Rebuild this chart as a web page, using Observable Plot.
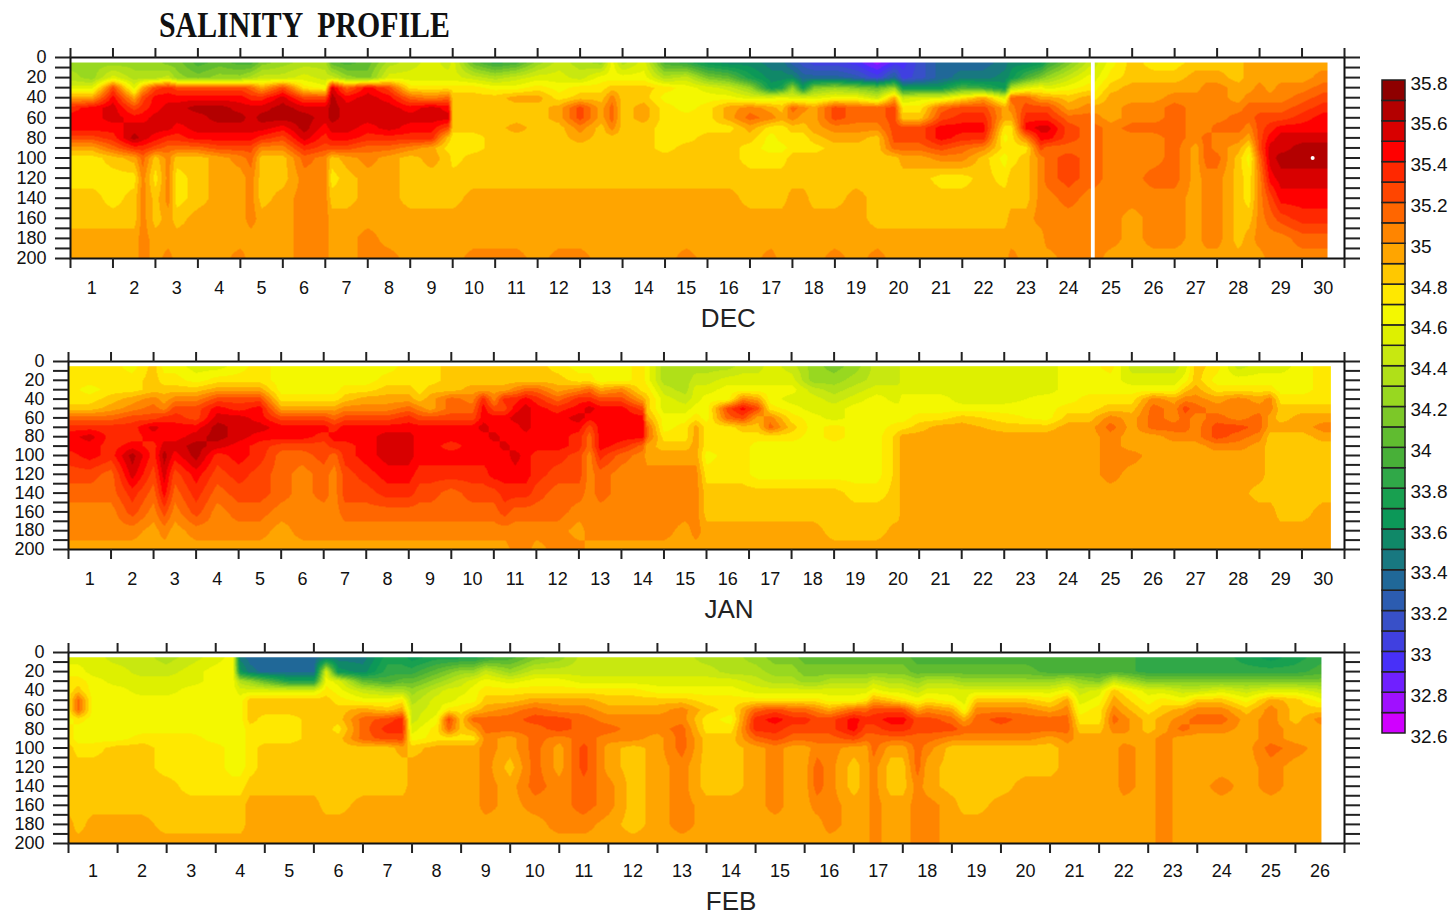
<!DOCTYPE html>
<html><head><meta charset="utf-8">
<script src="https://cdn.jsdelivr.net/npm/d3@7"></script>
<script src="https://cdn.jsdelivr.net/npm/@observablehq/plot@0.6"></script>
<style>
html,body{margin:0;padding:0;background:#fff;width:1452px;height:916px;overflow:hidden}
#page{position:relative;width:1452px;height:916px}
#title{position:absolute;left:159px;top:6px;font:bold 35px "Liberation Serif",serif;white-space:pre;color:#111;transform:scaleX(.853);transform-origin:left top}
.p{position:absolute;left:0}
#legend{position:absolute;left:1375px;top:70px}
svg{background:transparent;display:block}
</style></head><body><div id="page">
<div id="title">SALINITY  PROFILE</div>
<div class="p" id="p1" style="top:40px"></div>
<div class="p" id="p2" style="top:340px"></div>
<div class="p" id="p3" style="top:625px"></div>
<div id="legend"></div>
</div>
<script>
const depths=[5,20,30,40,50,60,70,80,90,100,120,140,160,180,200];
const depthTicks=[0,10,20,30,40,50,60,70,80,90,100,110,120,130,140,150,160,170,180,190,200];
const legendTicks=[32.6,32.8,33,33.2,33.4,33.6,33.8,34,34.2,34.4,34.6,34.8,35,35.2,35.4,35.6,35.8];
const thresholds=[32.7,32.8,32.9,33,33.1,33.2,33.3,33.4,33.5,33.6,33.7,33.8,33.9,34,34.1,34.2,34.3,34.4,34.5,34.6,34.7,34.8,34.9,35,35.1,35.2,35.3,35.4,35.5,35.6,35.7];
const bandColors=["#d000ff","#a010ff","#7020ff","#4830f8","#4040e0","#3850c8","#2c5cb0","#206898","#187880","#108868","#0c9858","#18a050","#30a848","#48b038","#60bc30","#7cc828","#98d820","#b0e018","#c8e810","#def000","#f4f800","#ffe800","#ffc800","#ffa500","#ff8500","#ff6600","#ff4500","#ff2800","#ff0000","#d80000","#b30000","#8e0000"];
// each row: day offset, then salinity band read at each depth (tenths of psu, lower edge of band)
const decRows=[
[0,342,343,345,349,353,354,354,352,349,347,347,348,348,349,349],
[0.5,342,342,345,349,354,354,354,352,349,347,347,348,348,349,349],
[1,342,345,352,354,355,355,354,353,351,348,347,347,348,349,349],
[1.5,342,343,345,349,352,354,355,356,353,349,347,348,348,349,349],
[1.7,342,343,349,352,353,354,355,355,353,351,350,350,350,350,350],
[2,342,343,352,354,354,355,355,354,352,348,347,348,348,349,349],
[2.3,341,344,353,354,355,355,355,353,351,350,350,350,349,349,350],
[2.5,341,342,352,354,355,355,354,353,351,348,347,347,348,349,349],
[3,339,341,352,354,356,355,355,354,351,348,348,348,349,349,349],
[3.5,340,342,352,354,356,356,355,354,352,349,349,349,349,349,349],
[4,339,342,352,354,355,356,355,354,352,350,349,349,349,349,350],
[4.25,339,343,351,353,355,355,355,354,352,351,350,350,350,349,349],
[4.5,341,344,349,353,355,356,355,353,350,348,348,348,349,349,349],
[5,342,344,352,355,356,356,354,352,350,348,348,349,349,349,349],
[5.5,343,345,347,352,355,356,356,355,353,351,350,350,350,350,350],
[6,343,344,346,352,355,355,354,353,352,350,350,350,350,350,350],
[6.15,340,344,355,356,356,356,355,354,352,348,347,348,349,349,349],
[6.5,339,342,351,354,355,355,355,354,352,349,348,348,349,349,349],
[7,340,341,354,355,355,355,354,353,351,350,349,349,349,350,350],
[7.5,343,345,352,354,355,355,355,353,351,349,349,349,349,349,350],
[8,344,345,347,351,354,355,354,353,350,348,348,348,349,349,349],
[8.5,345,345,347,350,355,355,354,353,349,349,348,348,349,349,349],
[8.9,344,345,347,351,354,355,352,348,347,348,348,348,349,349,349],
[9,345,345,347,348,348,348,348,347,347,347,348,348,349,349,349],
[9.5,340,344,347,348,348,348,348,347,347,348,348,349,349,349,350],
[10,338,343,346,348,348,348,348,348,348,348,348,349,349,349,350],
[10.5,339,344,346,349,348,348,349,348,348,348,348,349,349,349,350],
[11,342,345,347,349,348,348,348,348,348,348,348,349,349,349,349],
[11.5,344,345,346,347,349,349,348,348,348,348,348,349,349,349,350],
[12,343,344,347,348,352,352,350,349,348,348,348,349,349,349,350],
[12.5,342,346,347,348,349,349,348,348,348,348,348,349,349,349,349],
[12.75,346,346,348,350,351,351,350,348,348,348,348,349,349,349,349],
[13,343,346,348,348,348,348,348,348,348,348,348,349,349,349,349],
[13.5,345,346,348,348,349,349,348,348,348,348,348,349,349,349,349],
[14,339,343,347,346,347,347,347,347,347,348,348,349,349,349,349],
[14.5,338,344,346,346,346,347,347,347,348,348,348,349,349,349,350],
[15,336,341,345,346,347,347,347,348,348,348,348,349,349,349,349],
[15.5,335,340,344,346,349,349,347,348,348,348,348,349,349,349,349],
[16,335,337,342,345,350,351,349,348,347,347,348,348,349,349,349],
[16.5,334,335,336,345,349,350,347,346,346,347,348,348,349,349,350],
[16.75,334,335,337,346,348,349,347,347,346,347,348,348,349,349,349],
[17,332,335,342,345,351,350,348,347,347,348,348,349,349,349,349],
[17.25,331,333,336,345,350,349,348,347,347,348,348,349,349,349,349],
[17.5,330,333,341,345,349,349,349,348,347,348,348,348,349,349,349],
[18,330,333,342,346,352,352,350,349,348,348,348,348,349,349,350],
[18.5,329,332,341,346,351,351,350,349,348,348,348,349,349,349,349],
[19,327,330,340,344,351,351,350,348,348,348,348,348,348,349,350],
[19.4,329,333,342,349,352,352,352,352,351,348,348,348,348,349,349],
[19.6,329,330,336,344,347,348,352,352,351,349,348,348,348,349,349],
[20,331,331,336,345,347,348,352,352,351,349,348,348,348,349,349],
[20.5,333,333,336,345,351,352,354,354,352,350,347,348,348,349,349],
[21,333,334,339,347,352,353,354,353,351,350,347,348,348,349,349],
[21.5,333,334,338,349,352,353,354,353,350,348,348,348,348,349,349],
[22,334,335,336,345,349,349,347,346,347,346,347,348,348,349,349],
[22.15,335,336,343,351,350,349,347,347,347,347,348,348,349,349,350],
[22.5,335,339,345,351,352,353,354,350,347,348,348,348,349,349,349],
[22.85,336,341,346,349,352,353,355,354,352,350,350,350,350,349,349],
[23,338,342,345,349,352,353,355,354,351,351,351,350,350,350,349],
[23.5,341,344,346,348,349,351,352,352,351,352,352,351,350,350,350],
[24,344,346,347,349,350,351,351,351,351,351,351,350,350,350,350],
[24.1,344,345,346,347,349,350,351,351,351,351,351,350,350,350,350],
[24.5,346,347,348,349,349,349,350,350,350,350,350,350,350,350,349],
[25,348,348,349,349,350,350,351,350,350,350,350,350,349,349,349],
[25.5,347,348,349,349,350,350,351,350,350,350,351,350,350,350,349],
[26,347,348,349,350,351,351,351,351,351,351,351,350,350,350,349],
[26.5,348,349,349,350,350,350,350,350,349,349,349,349,349,349,349],
[26.75,348,349,350,350,350,350,350,351,351,351,350,350,350,350,349],
[27,348,349,350,350,350,350,351,350,350,351,350,350,350,350,349],
[27.5,348,348,349,349,350,351,351,350,349,348,348,348,348,348,349],
[27.75,349,349,349,350,351,351,350,349,347,346,347,347,348,349,349],
[28,349,349,350,350,351,352,352,352,352,351,350,350,350,350,349],
[28.25,349,349,349,350,351,352,353,354,355,355,354,352,351,350,350],
[28.5,349,349,350,350,351,352,354,355,355,356,355,354,352,350,350],
[29,349,349,350,351,352,353,354,355,356,356,355,354,353,351,350],
[29.5,349,350,351,352,353,354,354,355,356,356,355,354,353,351,350],
[30,349,350,351,352,353,354,354,355,356,356,355,354,353,351,350]];
const janRows=[
[0,347,347,347,347,348,351,353,354,354,353,352,351,350,350,349],
[0.5,347,347,346,347,348,351,353,355,354,354,352,351,350,350,349],
[1,347,347,347,348,349,351,353,353,353,353,351,351,350,350,349],
[1.5,346,347,347,349,350,352,353,353,354,356,355,353,352,350,349],
[2,348,348,348,350,351,352,355,354,353,353,352,351,350,349,349],
[2.25,346,347,348,349,350,353,354,354,355,356,355,354,352,350,349],
[2.5,346,347,348,350,352,353,354,354,355,354,352,351,350,349,349],
[3,345,346,348,350,352,352,354,355,356,356,354,353,352,350,349],
[3.5,345,347,349,352,354,355,356,356,355,353,352,351,350,350,349],
[4,346,347,349,352,353,355,355,355,354,354,353,352,351,350,349],
[4.5,347,347,349,352,354,354,355,354,353,353,352,352,351,350,349],
[5,346,346,346,347,349,352,354,354,352,351,351,351,350,349,349],
[5.5,346,346,346,347,349,352,354,354,352,351,350,350,350,350,349],
[6,346,346,346,347,349,352,354,353,352,352,351,351,350,350,349],
[6.25,346,346,346,347,349,351,353,354,353,351,350,350,350,350,349],
[6.5,346,346,347,348,350,352,354,354,353,353,352,352,351,350,349],
[7,346,346,347,349,350,352,354,354,354,354,353,352,351,350,349],
[7.5,346,347,348,349,350,352,354,355,355,355,354,353,351,350,349],
[8,347,347,348,349,351,353,354,355,355,355,354,353,351,350,349],
[8.25,347,347,347,348,350,352,354,354,354,354,353,352,351,350,349],
[8.5,347,347,348,349,349,352,354,354,354,354,353,352,351,350,349],
[9,348,348,348,351,351,352,354,354,353,354,353,351,351,350,349],
[9.5,348,348,349,350,351,352,354,354,354,354,353,352,351,350,349],
[9.75,348,348,349,353,354,354,355,354,354,354,353,352,351,350,349],
[10,348,348,349,350,352,354,354,355,354,354,354,352,351,350,349],
[10.25,348,348,349,353,352,354,354,354,355,354,354,353,352,350,349],
[10.5,348,348,350,353,354,355,354,354,354,355,354,353,351,350,350],
[10.75,348,348,351,354,355,355,355,354,354,354,354,353,351,350,350],
[11,348,348,351,353,354,354,354,354,354,353,353,352,351,350,349],
[11.5,347,348,349,351,353,354,354,354,354,353,352,351,351,350,350],
[12,346,347,350,353,354,355,354,353,353,352,352,351,350,349,350],
[12.25,346,347,351,353,355,354,352,351,351,350,350,350,350,350,349],
[12.5,346,346,349,352,354,354,354,354,354,353,351,351,350,350,349],
[13,346,346,350,352,354,354,354,354,353,351,350,350,350,350,349],
[13.5,347,347,347,349,352,354,354,354,351,350,350,350,350,350,349],
[13.6,346,346,347,348,348,349,351,351,349,349,350,350,350,350,349],
[14,343,343,344,345,345,346,346,347,348,349,350,350,350,350,349],
[14.5,343,343,343,344,345,346,347,347,348,349,350,350,350,349,349],
[14.75,343,344,345,345,346,347,349,349,349,349,350,350,350,350,349],
[15,343,344,345,346,346,346,347,347,347,346,347,348,348,349,349],
[15.5,343,345,346,346,352,351,347,347,347,347,347,348,348,349,349],
[15.85,344,345,346,350,354,352,348,347,347,347,347,348,348,349,349],
[16.2,344,345,346,349,352,349,348,347,346,346,346,348,348,349,349],
[16.5,345,345,346,346,347,350,351,347,346,346,346,348,348,349,349],
[17,344,345,346,345,346,347,348,347,346,346,346,348,348,349,349],
[17.5,342,342,344,345,345,346,346,346,346,346,346,348,348,349,349],
[18,341,342,343,344,345,345,347,347,346,346,346,348,348,348,349],
[18.5,342,343,344,345,346,346,346,346,346,346,346,347,348,348,349],
[19,344,344,345,346,346,346,346,346,346,346,346,347,348,348,349],
[19.5,344,344,345,345,346,346,347,348,348,348,348,348,348,349,349],
[19.6,345,345,345,346,346,346,347,349,349,349,349,349,349,349,349],
[20,345,345,345,346,346,347,348,349,349,349,349,349,349,349,349],
[20.5,345,345,345,346,346,347,349,349,349,349,349,349,349,349,349],
[21,345,345,345,345,346,348,349,349,349,349,349,349,349,349,349],
[22,345,345,345,345,346,347,348,349,349,349,349,349,349,349,349],
[23,345,345,345,346,346,346,348,349,349,349,349,349,349,349,349],
[23.5,346,346,346,346,347,348,349,349,349,349,349,349,349,349,349],
[24,346,346,346,347,347,348,349,349,349,349,349,349,349,349,349],
[24.5,347,346,346,347,348,350,351,350,350,350,350,349,349,349,349],
[25,344,345,346,347,348,349,349,349,349,350,349,349,349,349,349],
[25.5,344,345,346,350,351,351,351,349,349,349,349,349,349,349,349],
[26,344,345,346,349,350,350,351,350,349,349,349,349,349,349,349],
[26.25,345,346,348,350,352,351,351,350,349,349,349,349,349,349,349],
[26.5,348,348,349,350,351,350,350,350,349,349,349,349,349,349,349],
[27,347,346,347,349,350,351,352,352,350,349,349,349,349,349,349],
[27.5,344,346,347,350,350,350,352,351,350,349,349,349,349,349,349],
[28,345,346,347,349,350,351,351,350,349,349,349,348,349,349,349],
[28.25,345,346,347,350,350,349,349,348,348,348,348,348,349,349,349],
[28.5,345,346,346,347,348,348,349,348,348,348,348,348,348,349,349],
[29,346,346,346,347,348,349,349,348,348,348,348,348,348,349,349],
[29.5,347,347,347,347,348,349,350,349,348,348,348,348,349,349,349],
[30,347,347,347,347,348,349,350,349,348,348,348,348,349,349,349]];
const febRows=[
[0,345,346,347,347,347,347,346,347,347,348,348,348,348,349,349],
[0.2,345,346,347,348,351,351,347,346,346,347,348,348,348,348,349],
[0.5,345,345,346,346,346,346,346,346,346,347,348,348,348,349,349],
[1,344,345,345,346,346,346,346,346,346,348,348,348,348,349,349],
[1.5,344,344,345,345,346,346,346,346,347,348,348,348,348,349,349],
[2,343,344,345,345,346,346,346,346,347,347,347,348,348,348,349],
[2.5,344,345,345,346,346,346,346,346,347,347,347,347,348,348,349],
[3,345,346,346,346,346,346,346,346,346,347,347,347,348,348,349],
[3.35,346,346,346,346,346,346,346,346,346,346,346,347,348,348,349],
[3.5,334,336,343,345,346,346,346,346,346,346,346,347,348,348,349],
[3.7,333,334,342,345,348,348,348,347,347,347,347,348,349,349,349],
[4,333,333,340,345,348,348,347,347,347,348,348,348,349,349,349],
[4.5,333,333,337,345,348,348,347,347,347,348,348,348,349,349,349],
[5,333,333,337,345,348,348,348,348,348,348,348,348,349,349,349],
[5.25,334,345,346,347,348,348,348,348,348,348,348,348,348,349,349],
[5.5,334,336,345,346,347,348,348,347,348,348,348,348,348,349,349],
[6,334,335,340,344,346,349,351,351,351,348,348,348,349,349,349],
[6.5,337,338,339,343,346,348,352,353,352,348,348,348,349,349,349],
[6.8,337,338,340,343,347,349,353,353,352,349,348,348,349,349,349],
[7,336,338,340,342,343,344,344,345,346,348,349,349,349,349,349],
[7.5,337,340,342,344,345,345,346,347,347,349,349,349,349,349,349],
[7.75,337,341,343,345,345,347,352,351,347,349,349,349,349,349,349],
[8,337,342,344,345,346,347,348,348,347,349,349,349,349,349,349],
[8.25,337,342,345,346,346,348,351,349,347,349,349,349,349,349,349],
[8.5,338,344,346,347,348,349,351,351,350,350,350,350,350,349,349],
[9,339,342,345,347,348,350,351,351,349,349,348,349,349,349,349],
[9.5,341,344,346,347,349,351,352,351,351,351,351,351,350,349,349],
[10,342,344,346,347,349,350,352,352,350,349,349,350,350,350,349],
[10.5,344,344,345,347,349,350,351,351,351,352,352,351,351,350,349],
[11,344,344,345,347,348,349,350,351,350,349,349,350,350,349,349],
[11.5,344,344,345,347,348,349,350,350,350,348,348,348,348,348,349],
[12,344,344,345,346,348,349,350,350,349,349,349,349,349,349,349],
[12.5,344,344,345,346,348,350,350,351,351,351,350,350,350,350,349],
[13,343,344,345,346,347,348,347,347,348,348,348,348,349,349,349],
[13.5,343,343,345,346,347,347,346,347,348,348,348,348,349,349,349],
[14,342,343,344,345,347,351,353,353,351,349,349,349,349,349,349],
[14.4,341,342,343,345,347,352,354,353,352,350,350,350,350,349,349],
[14.75,341,342,343,345,347,351,353,352,351,349,349,349,349,349,349],
[15,340,341,342,345,347,351,353,352,351,349,349,349,349,349,349],
[15.25,340,341,342,345,347,350,352,352,351,350,351,351,350,349,349],
[15.5,340,341,343,345,346,349,352,352,351,350,350,350,350,350,349],
[16,340,341,343,345,346,351,354,354,352,349,348,348,349,349,349],
[16.25,340,341,343,345,347,351,353,352,351,349,349,349,349,349,349],
[16.4,340,341,344,346,349,352,353,352,351,351,350,350,350,350,350],
[16.75,340,341,343,345,348,352,354,353,351,349,348,348,349,349,349],
[17,340,341,343,345,347,352,354,353,351,349,348,348,349,349,349],
[17.3,339,340,342,344,346,349,352,352,351,351,351,350,350,350,350],
[17.5,339,340,343,345,347,350,352,352,351,350,349,349,350,350,350],
[18,339,340,343,345,346,349,351,352,350,348,348,348,349,349,349],
[18.25,339,340,342,345,345,346,349,351,350,348,348,348,348,349,349],
[18.5,339,340,342,345,348,350,351,351,350,348,348,348,348,349,349],
[19,339,340,342,345,348,350,352,351,350,348,348,348,349,349,349],
[19.5,339,340,342,345,348,350,351,351,350,348,348,349,349,349,349],
[20,339,339,342,345,347,349,351,351,349,348,348,349,349,349,349],
[20.35,339,339,343,346,349,350,351,351,350,349,349,349,349,349,349],
[20.6,339,339,342,344,345,346,347,348,349,349,349,349,349,349,349],
[21,339,339,341,345,346,347,347,348,349,349,349,349,349,349,349],
[21.3,339,339,344,348,349,350,351,350,349,349,349,349,349,349,349],
[21.5,339,339,343,347,348,349,350,350,349,350,350,350,349,349,349],
[22,338,338,341,345,346,347,348,348,349,349,349,349,349,349,349],
[22.3,338,338,341,345,347,348,349,349,350,350,350,350,350,350,350],
[22.7,338,338,341,344,346,349,350,351,349,349,349,349,349,349,349],
[23,338,338,341,344,348,350,351,350,349,349,349,349,349,349,349],
[23.5,338,338,341,345,348,350,351,350,349,349,349,350,349,349,349],
[24,337,338,341,344,346,348,349,349,349,349,349,349,349,349,349],
[24.5,336,338,341,345,349,350,350,350,350,351,350,350,349,349,349],
[25,337,338,341,345,348,348,348,349,349,350,349,349,349,349,349],
[25.5,338,339,341,344,346,348,350,349,349,349,349,349,349,349,349],
[26,338,339,341,344,346,348,350,349,349,349,349,349,349,349,349]];
const decTicks=d3.range(0,31), decLabels=d3.range(1,31);
const febTicks=d3.range(0,27), febLabels=d3.range(1,27);
const decGap=[{x1:24.04,x2:24.13}];
const decDot=[{day:29.25,depth:100}];
const tickFont='"Liberation Sans",sans-serif';
const color={type:"threshold",domain:thresholds,range:bandColors};
function toCells(rows){
  const out=[];
  for(const r of rows){r.slice(1).forEach((v,i)=>out.push({day:r[0],depth:depths[i],sal:(v+0.5)/10}));}
  return out;
}
// bilinear fill between the read columns and depths, handed to Plot.raster
function bilinear(index,w,h,X,Y,V){
  const xs=[...new Set(Array.from(index,i=>X[i]))].sort((a,b)=>a-b);
  const ys=[...new Set(Array.from(index,i=>Y[i]))].sort((a,b)=>a-b);
  const xi=new Map(xs.map((x,i)=>[x,i])), yi=new Map(ys.map((y,i)=>[y,i]));
  const g=new Float64Array(xs.length*ys.length);
  for(const i of index) g[xi.get(X[i])*ys.length+yi.get(Y[i])]=V[i];
  const out=new Float64Array(w*h);
  const locate=(a,v)=>{let k=d3.bisectRight(a,v)-1;k=Math.max(0,Math.min(a.length-2,k));let t=(v-a[k])/(a[k+1]-a[k]);return [k,Math.max(0,Math.min(1,t))];};
  const yl=[];for(let j=0;j<h;j++)yl.push(locate(ys,j+0.5));
  for(let c=0;c<w;c++){
    const [k,t]=locate(xs,c+0.5);
    for(let j=0;j<h;j++){
      const [m,u]=yl[j];
      const a=g[k*ys.length+m],b=g[k*ys.length+m+1],d=g[(k+1)*ys.length+m],e=g[(k+1)*ys.length+m+1];
      out[j*w+c]=(a*(1-u)+b*u)*(1-t)+(d*(1-u)+e*u)*t;
    }
  }
  return out;
}
function panel(o){
  const marks=[
    Plot.raster(toCells(o.rows),{x:"day",y:"depth",fill:"sal",x1:0,x2:o.end,y1:5,y2:200,interpolate:bilinear,pixelSize:1}),
    ...(o.gap?[Plot.rect(o.gap,{x1:"x1",x2:"x2",y1:2,y2:200,fill:"white"})]:[]),
    ...(o.dot?[Plot.dot(o.dot,{x:"day",y:"depth",r:2,fill:"white"})]:[]),
    Plot.frame({stroke:"#111",strokeWidth:2}),
    Plot.axisY({anchor:"left",ticks:depthTicks,tickSize:15,tickPadding:9,strokeWidth:2,stroke:"#222",fontSize:18,tickFormat:d=>d%20?"":d,label:null}),
    Plot.axisY({anchor:"right",ticks:depthTicks,tickSize:15,strokeWidth:2,stroke:"#222",tickFormat:()=>"",label:null}),
    Plot.axisX({anchor:"top",ticks:o.ticks,tickSize:10,strokeWidth:2,stroke:"#222",tickFormat:()=>"",label:null}),
    Plot.axisX({anchor:"bottom",ticks:o.ticks,tickSize:10,strokeWidth:2,stroke:"#222",tickFormat:()=>"",label:null}),
    Plot.axisX({anchor:"bottom",ticks:o.labels.map(d=>d-0.5),tickSize:0,tickPadding:o.pad,fontSize:18,tickFormat:d=>d+0.5,label:null}),
    Plot.text([o.month],{x:o.monthX,frameAnchor:"bottom",dy:o.monthDy,fontSize:26,fill:"#222",text:d=>d,lineAnchor:"middle"})
  ];
  return Plot.plot({width:1375,height:o.h,marginLeft:o.left,marginRight:31,marginTop:o.mt,marginBottom:o.mb,
    style:{fontFamily:tickFont,color:"#111",background:"transparent",overflow:"visible"},
    x:{domain:o.domain},y:{domain:[200,0]},color,marks});
}
document.getElementById("p1").append(panel({rows:decRows,end:29.6,gap:decGap,dot:decDot,ticks:decTicks,labels:decLabels,domain:[0,30],left:70,h:300,mt:17,mb:82,pad:23,month:"DEC",monthX:15.49,monthDy:60}));
document.getElementById("p2").append(panel({rows:janRows,end:29.68,ticks:decTicks,labels:decLabels,domain:[0,30],left:68,h:285,mt:21,mb:76,pad:23,month:"JAN",monthX:15.53,monthDy:60}));
document.getElementById("p3").append(panel({rows:febRows,end:25.53,ticks:febTicks,labels:febLabels,domain:[0,26],left:68,h:291,mt:27,mb:73,pad:21,month:"FEB",monthX:13.5,monthDy:58}));
const legendBands=thresholds.length+1;
const legendLow=d3.range(legendBands).map(i=>Math.round((32.6+i*0.1)*10)/10);
document.getElementById("legend").append(Plot.plot({width:77,height:680,marginLeft:7,marginRight:47,marginTop:10,marginBottom:17,
  style:{fontFamily:tickFont,color:"#111",background:"transparent",overflow:"visible"},
  x:{domain:[0,1],axis:null},y:{domain:[32.6,35.8]},color,
  marks:[
    Plot.rect(legendLow,{x1:0,x2:1,y1:d=>d,y2:d=>d+0.1,fill:d=>d+0.05,stroke:"#222",strokeWidth:1.5,inset:0}),
    Plot.axisY({anchor:"right",ticks:legendTicks,tickSize:0,tickPadding:5,fontSize:19,dy:3,tickFormat:d=>d,label:null})
  ]}));
</script></body></html>
